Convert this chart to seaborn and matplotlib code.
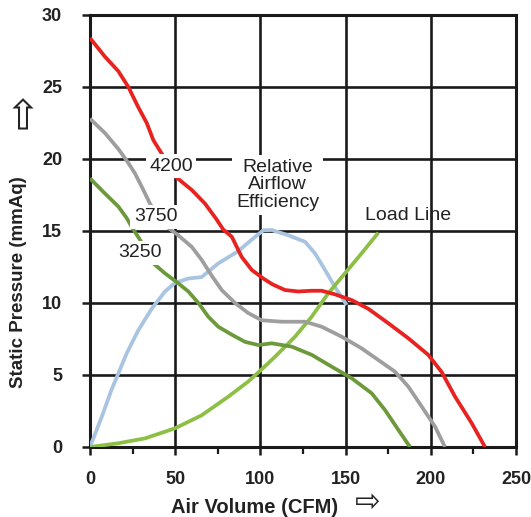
import numpy as np
import pandas as pd
import seaborn as sns
import matplotlib.pyplot as plt

# fan curves (CFM vs mmAq)
x_4200 = [0, 8.8, 16.6, 22.5, 28.3, 33.3, 37.2, 43, 49.9, 59.7, 67.5, 74.3, 78.2, 83.2, 89, 94.9,
          101.7, 107, 114.4, 122.2, 130, 136, 143.8, 153.6, 163.3, 175, 186.8, 198.5, 206.4, 214.2, 224, 231.8]
y_4200 = [28.4, 27.1, 26.1, 25.0, 23.6, 22.5, 21.3, 20.2, 18.8, 17.85, 16.9, 15.8, 15.1, 14.6, 13.2, 12.3,
          11.7, 11.3, 10.9, 10.8, 10.85, 10.85, 10.6, 10.2, 9.6, 8.6, 7.55, 6.4, 5.2, 3.5, 1.65, 0]

x_3750 = [0, 8.8, 16.6, 21.5, 26.4, 31.3, 35.2, 40, 45, 51.8, 59.7, 65.5, 71.4, 77.3, 85.1, 92.9, 100.8,
          112.5, 126.2, 136, 147.7, 159.4, 169.2, 179, 186.8, 194.7, 202.5, 208.3]
y_3750 = [22.8, 21.8, 20.7, 19.9, 19.0, 17.85, 16.9, 16.0, 15.3, 14.7, 13.9, 13.0, 11.9, 10.9, 10.0, 9.3, 8.8,
          8.7, 8.7, 8.35, 7.66, 6.85, 6.04, 5.23, 4.19, 2.8, 1.41, 0]

x_3250 = [0, 8.8, 16.6, 21.5, 25.4, 29.3, 33, 37.2, 44, 51.8, 57.7, 63.6, 69.4, 75.3, 83.2, 91, 98.8,
          106.6, 118.4, 130.1, 141.8, 153.6, 165.3, 173.1, 181, 187.8]
y_3250 = [18.65, 17.6, 16.7, 15.9, 15.1, 14.4, 13.6, 12.75, 12.06, 11.37, 10.8, 10.0, 9.05, 8.35, 7.8, 7.3, 7.08,
          7.2, 6.97, 6.4, 5.58, 4.77, 3.73, 2.57, 1.18, 0]

x_eff = [0, 6.9, 12.7, 16.6, 21.5, 28.3, 36.2, 44, 49.9, 57.7, 65.5, 75.3, 87, 94.9, 101.7, 106.6,
         116.4, 126.2, 132, 137.9, 143.8, 150.6]
y_eff = [0, 2.1, 4.0, 5.1, 6.5, 8.1, 9.6, 10.8, 11.4, 11.7, 11.8, 12.75, 13.6, 14.4, 15.05, 15.07,
         14.7, 14.25, 13.45, 12.3, 11.1, 9.86]

x_load = [0, 16.6, 32.3, 49.9, 65.5, 81.2, 92.9, 101.7, 108.6, 120.3, 130.1, 139.8, 149.6, 159.4, 169.2]
y_load = [0, 0.26, 0.6, 1.3, 2.2, 3.5, 4.55, 5.5, 6.27, 7.66, 9.05, 10.67, 12.06, 13.45, 14.88]

x_ticks = [0, 50, 100, 150, 200, 250]
y_ticks = [0, 5, 10, 15, 20, 25, 30]

sns.set_style("white")
plt.rcParams['font.family'] = ['Liberation Sans', 'DejaVu Sans']

fig = plt.figure(figsize=(5.31, 5.17), dpi=100)
ax = fig.add_axes([0.1695, 0.1354, 0.8023, 0.8356])

curves = [
    (x_eff, y_eff, '#a9c4e0'),
    (x_load, y_load, '#8dbf45'),
    (x_3250, y_3250, '#6c9a3a'),
    (x_3750, y_3750, '#9e9e9e'),
    (x_4200, y_4200, '#e8221e'),
]
for xs, ys, c in curves:
    df = pd.DataFrame({'x': xs, 'y': ys})
    sns.lineplot(data=df, x='x', y='y', ax=ax, color=c, lw=2.7, sort=False,
                 solid_capstyle='butt', solid_joinstyle='round', zorder=3)

ax.set_xlim(0, 250)
ax.set_ylim(0, 30)
ax.set_xticks(x_ticks)
ax.set_yticks(y_ticks)
ax.set_xticks([25, 75, 125, 175, 225], minor=True)
ax.grid(True, which='major', color='#1a1a1a', lw=1.9)
ax.grid(False, which='minor')
ax.set_axisbelow(True)
for s in ax.spines.values():
    s.set_visible(True)
    s.set_color('#1a1a1a')
    s.set_linewidth(2.2)
ax.tick_params(axis='both', which='major', length=6, width=1.8, color='#1a1a1a',
               direction='out', labelsize=13, left=True, bottom=True)
ax.tick_params(axis='x', which='major', pad=11)
ax.tick_params(axis='y', which='major', pad=14)
ax.tick_params(axis='x', which='minor', length=5, width=1.6, color='#1a1a1a',
               direction='out', bottom=True)
for lab in ax.get_xticklabels() + ax.get_yticklabels():
    lab.set_fontweight('bold')
    lab.set_color('#222222')
ax.set_xlabel('')
ax.set_ylabel('')

box = dict(facecolor='white', edgecolor='none', pad=2.5)
ax.text(47.5, 19.5, '4200', fontsize=14, ha='center', va='center', color='#222222', bbox=box, zorder=4)
ax.text(38.5, 16.0, '3750', fontsize=14, ha='center', va='center', color='#222222', bbox=box, zorder=4)
ax.text(29.5, 13.5, '3250', fontsize=14, ha='center', va='center', color='#222222', bbox=box, zorder=4)
ax.text(110, 18.2, 'Relative\nAirflow\nEfficiency', fontsize=14, ha='center', va='center',
        color='#222222', linespacing=1.05, bbox=box, zorder=4)
ax.text(186.5, 16.1, 'Load Line', fontsize=14, ha='center', va='center', color='#222222', zorder=4)

fig.text(0.48, 0.019, 'Air Volume (CFM)', fontsize=14.5, fontweight='bold', ha='center',
         va='center', color='#222222')
fig.text(0.692, 0.028, '\u21e8', fontsize=22, ha='center', va='center', color='#222222',
         family='DejaVu Sans')
fig.text(0.018, 0.455, 'Static Pressure (mmAq)', fontsize=13.5, fontweight='bold', rotation=90,
         ha='left', va='center', color='#222222')
fig.text(0.005, 0.785, '\u21e8', fontsize=30, rotation=90, ha='left', va='center', color='#222222',
         family='DejaVu Sans')

fig.savefig('out.png', dpi=100)
